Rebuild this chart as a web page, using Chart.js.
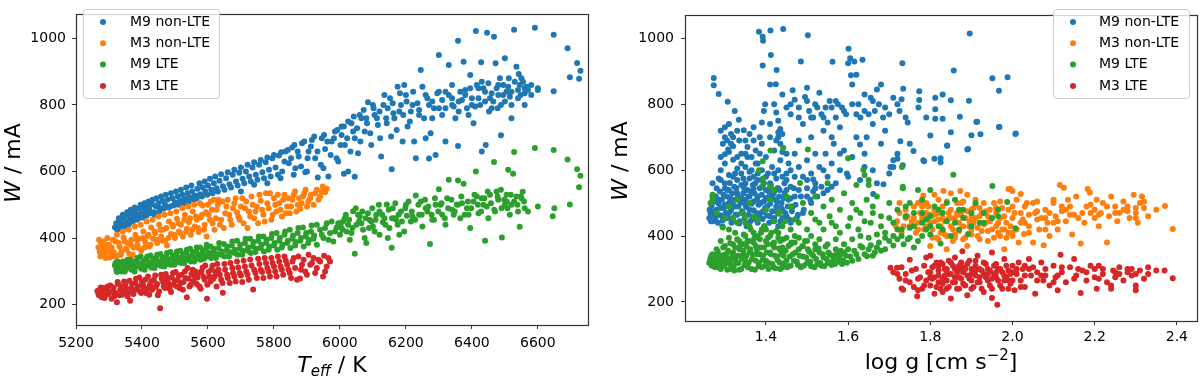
<!DOCTYPE html>
<html>
<head>
<meta charset="utf-8">
<script src="https://cdn.jsdelivr.net/npm/chart.js@4.4.1/dist/chart.umd.min.js"></script>
<style>
  body { margin: 0; background: #fff; }
  #wrap { position: relative; width: 1200px; height: 379px; }
  canvas { position: absolute; top: 0; }
</style>
</head>
<body>
<div id="wrap">
  <canvas id="teffChart" width="600" height="379" style="left:0px"></canvas>
  <canvas id="loggChart" width="600" height="379" style="left:600px"></canvas>
</div>
<script>
var seriesNames = ['M9 non-LTE', 'M3 non-LTE', 'M9 LTE', 'M3 LTE']
var seriesColors = ['#1f77b4', '#ff7f0e', '#2ca02c', '#d62728']

var teffTicks = [5200, 5400, 5600, 5800, 6000, 6200, 6400, 6600]
var loggTicks = [1.4, 1.6, 1.8, 2.0, 2.2, 2.4]
var wTicks = [200, 400, 600, 800, 1000]

// left panel: [Teff, W]
var teffM9nlte = [[5318,432],[5322,445],[5328,438],[5335,452],[5340,440],[5345,462],[5352,448],[5358,470],[5362,455],[5368,478],[5375,465],[5380,482],[5386,470],[5392,490],[5398,475],[5404,493],[5410,482],[5416,498],[5422,488],[5430,502],[5436,478],[5442,496],[5450,505],[5456,490],[5462,512],[5470,500],[5478,516],[5485,495],[5492,520],[5500,508],[5508,526],[5515,512],[5522,530],[5530,518],[5538,535],[5545,522],[5552,540],[5560,528],[5568,548],[5576,532],[5584,552],[5592,540],[5600,558],[5610,545],[5618,565],[5626,550],[5635,572],[5645,556],[5655,580],[5665,562],[5675,590],[5685,570],[5695,596],[5705,578],[5715,600],[5725,585],[5735,612],[5745,590],[5755,620],[5765,598],[5775,628],[5785,605],[5795,640],[5805,612],[5815,648],[5825,600],[5835,660],[5845,625],[5855,672],[5865,610],[5875,645],[5885,685],[5895,598],[5905,660],[5915,695],[5925,640],[5933,582],[5945,700],[5955,668],[5965,585],[5975,690],[5985,720],[5995,630],[6005,710],[6012,593],[6015,680],[6025,600],[6035,745],[6045,584],[6045,700],[6055,655],[6065,760],[6075,720],[6085,808],[6095,680],[6105,770],[6115,740],[6125,645],[6135,830],[6145,790],[6155,705],[6157,607],[6165,760],[6175,855],[6185,800],[6190,690],[6195,860],[6205,735],[6215,780],[6225,690],[6230,640],[6235,805],[6245,905],[6255,760],[6260,700],[6265,820],[6270,639],[6275,715],[6285,790],[6290,650],[6295,835],[6300,950],[6310,770],[6310,815],[6320,690],[6330,920],[6330,830],[6340,800],[6345,795],[6350,760],[6358,993],[6358,677],[6360,810],[6365,840],[6375,930],[6380,845],[6385,790],[6390,770],[6395,890],[6400,820],[6405,745],[6412,1022],[6415,860],[6420,820],[6425,800],[6428,928],[6430,660],[6435,850],[6440,840],[6442,680],[6446,1017],[6450,865],[6452,780],[6460,835],[6465,810],[6467,1005],[6472,925],[6475,850],[6480,860],[6485,880],[6488,709],[6488,800],[6495,830],[6500,940],[6505,840],[6510,855],[6512,880],[6520,760],[6520,800],[6528,1026],[6530,870],[6535,915],[6540,845],[6542,893],[6548,830],[6550,880],[6555,870],[6560,800],[6565,855],[6570,845],[6580,860],[6591,1032],[6600,850],[6648,1011],[6648,841],[6690,970],[6697,883],[6719,926],[6725,879],[6729,903],
  [5325,425],[5330,460],[5336,430],[5342,470],[5348,435],[5355,478],[5360,442],[5366,485],[5372,450],[5378,492],[5384,455],[5390,460],[5396,500],[5402,462],[5408,505],[5414,468],[5420,510],[5426,475],[5432,515],[5438,470],[5444,520],[5452,480],[5458,525],[5465,488],[5472,530],[5480,492],[5488,535],[5495,498],[5503,540],[5510,500],[5518,545],[5526,505],[5534,552],[5542,510],[5550,558],[5558,515],[5566,520],[5574,565],[5582,525],[5590,570],[5598,530],[5606,578],[5614,535],[5622,585],[5630,540],[5640,592],[5650,545],[5660,598],[5670,552],[5680,605],[5690,558],[5700,612],[5710,565],[5720,620],[5730,570],[5740,628],[5750,575],[5760,635],[5770,580],[5780,642],[5790,585],[5800,650],[5812,590],[5822,658],[5832,630],[5842,665],[5852,640],[5862,680],[5872,660],[5882,615],[5892,690],[5902,640],[5912,675],[5922,705],[5932,660],[5942,620],[5952,710],[5962,690],[5972,650],[5982,700],[5992,725],[6002,680],[6012,735],[6022,700],[6032,660],[6042,765],[6052,730],[6062,690],[6072,785],[6082,745],[6092,715],[6102,790],[6112,760],[6122,700],[6132,800],[6142,745],[6152,820],[6162,775],[6172,725],[6182,835],[6192,770],[6202,810],[6212,750],[6222,840],[6240,785],[6250,855],[6270,800],[6280,760],[6300,840],[6320,790],[6340,860],[6370,815],[6395,850],[6410,795],[6430,870],[6455,820],[6478,790],[6495,860],[6515,825],[6545,860],[6560,835],
  [5700,540],[5740,560],[5780,565],[5820,580],[5860,590],[5900,600],[5950,610],[5990,640],[6005,735],[6025,750],[6040,720],[6060,770],[6080,760],[6100,800],[6120,780],[6140,760],[6160,805],[6180,780],[6200,830],[6220,800],[6240,770],[6260,830],[6280,810],[6300,790],[6320,840],[6340,820],[6360,780],[6380,830],[6400,800],[6420,850],[6440,810],[6460,790],[6480,830],[6500,810],[6520,840],[6540,820],[6560,850],[6580,830],[6600,845]]

var teffM3nlte = [[5268,372],[5272,358],[5276,385],[5282,365],[5288,352],[5292,378],[5298,362],[5303,342],[5308,372],[5314,358],[5320,390],[5326,348],[5332,375],[5338,360],[5344,402],[5350,368],[5356,385],[5362,352],[5368,395],[5374,372],[5380,410],[5386,380],[5392,398],[5398,362],[5404,420],[5410,388],[5416,405],[5422,375],[5428,432],[5434,398],[5440,415],[5446,385],[5452,440],[5458,405],[5464,425],[5470,392],[5476,378],[5482,450],[5488,412],[5494,435],[5500,400],[5506,458],[5512,420],[5518,440],[5524,405],[5530,470],[5536,428],[5542,448],[5548,410],[5554,480],[5560,435],[5566,455],[5572,418],[5578,462],[5584,498],[5590,440],[5596,405],[5602,470],[5608,510],[5614,445],[5620,425],[5626,485],[5632,515],[5640,455],[5648,430],[5656,495],[5664,470],[5672,440],[5680,505],[5688,478],[5696,455],[5704,520],[5712,490],[5720,430],[5728,465],[5736,500],[5744,480],[5752,445],[5760,512],[5768,470],[5776,535],[5784,490],[5792,455],[5800,520],[5808,480],[5816,505],[5824,465],[5832,530],[5840,495],[5848,475],[5856,515],[5864,540],[5872,500],[5880,488],[5888,525],[5896,545],[5904,510],[5912,530],[5920,500],[5930,545],[5940,525],[5948,555],[5955,538],[5960,548],
  [5270,395],[5274,345],[5278,370],[5284,390],[5290,340],[5295,400],[5300,380],[5306,355],[5312,395],[5318,345],[5324,410],[5330,385],[5336,350],[5342,420],[5348,390],[5354,365],[5360,425],[5366,380],[5372,350],[5378,435],[5384,395],[5390,370],[5396,440],[5402,400],[5408,372],[5414,450],[5420,410],[5426,380],[5432,455],[5438,420],[5444,395],[5450,465],[5456,425],[5462,392],[5468,470],[5474,430],[5480,400],[5486,475],[5492,440],[5498,410],[5504,480],[5510,445],[5516,415],[5522,490],[5528,455],[5534,420],[5540,495],[5546,460],[5552,425],[5558,500],[5564,465],[5570,430],[5576,505],[5582,470],[5588,425],[5594,478],[5600,500],[5606,455],[5612,485],[5618,515],[5624,460],[5630,500],[5636,440],[5644,510],[5652,475],[5660,515],[5668,455],[5676,490],[5684,520],[5692,465],[5700,495],[5708,445],[5716,510],[5724,480],[5732,525],[5740,460],[5748,495],[5756,530],[5764,485],[5772,450],[5780,505],[5788,535],[5796,470],[5804,500],[5812,530],[5820,485],[5828,515],[5836,475],[5844,520],[5852,495],[5860,530],[5868,480],[5876,520],[5884,505],[5892,535],[5900,495],[5910,520],[5925,535],[5935,515],[5945,540]]

var teffM9lte = [[5318,318],[5322,305],[5326,330],[5332,312],[5338,300],[5344,322],[5350,310],[5356,335],[5362,318],[5368,305],[5374,328],[5380,315],[5386,340],[5392,322],[5398,308],[5404,332],[5410,318],[5416,345],[5422,325],[5428,312],[5434,338],[5440,322],[5446,350],[5452,330],[5458,316],[5464,342],[5470,328],[5476,355],[5482,335],[5488,320],[5494,348],[5500,332],[5506,360],[5512,340],[5518,325],[5524,352],[5530,338],[5536,365],[5542,345],[5548,330],[5554,358],[5560,342],[5566,372],[5572,350],[5578,335],[5584,362],[5590,348],[5596,380],[5602,356],[5610,340],[5618,368],[5626,352],[5634,385],[5642,360],[5650,345],[5658,375],[5666,358],[5674,390],[5682,365],[5690,350],[5698,380],[5706,362],[5714,398],[5722,372],[5730,355],[5738,388],[5746,368],[5754,405],[5762,380],[5770,360],[5778,395],[5786,375],[5794,412],[5802,385],[5810,365],[5818,400],[5826,380],[5834,420],[5842,392],[5850,370],[5858,408],[5866,388],[5874,430],[5882,400],[5890,375],[5898,415],[5906,395],[5914,438],[5922,408],[5930,380],[5940,425],[5950,400],[5960,445],[5970,415],[5980,390],[5990,432],[6000,410],[6010,450],[6020,420],[6030,395],[6040,481],[6045,353],[6050,440],[6060,465],[6070,425],[6080,385],[6090,455],[6100,435],[6110,470],[6120,410],[6130,448],[6142,501],[6150,430],[6157,371],[6165,460],[6175,440],[6185,480],[6195,420],[6203,467],[6215,450],[6230,528],[6240,470],[6250,435],[6260,490],[6273,382],[6280,455],[6290,500],[6300,547],[6310,470],[6320,440],[6330,575],[6340,485],[6354,501],[6358,573],[6365,460],[6375,563],[6385,490],[6395,430],[6405,510],[6412,600],[6420,475],[6430,520],[6440,392],[6445,495],[6455,530],[6467,629],[6470,480],[6480,515],[6491,402],[6500,500],[6506,510],[6510,605],[6515,470],[6525,593],[6528,659],[6535,525],[6545,434],[6554,539],[6560,490],[6591,671],[6645,466],[6648,665],[6690,636],[6697,501],[6719,607],[6725,553],[6729,587],
  [5320,325],[5324,298],[5330,320],[5336,308],[5342,330],[5348,300],[5354,325],[5360,310],[5366,335],[5372,312],[5378,300],[5384,330],[5390,315],[5396,345],[5402,322],[5408,305],[5414,338],[5420,318],[5426,348],[5432,328],[5438,310],[5444,340],[5450,320],[5456,352],[5462,332],[5468,315],[5474,345],[5480,322],[5486,358],[5492,338],[5498,320],[5504,350],[5510,328],[5516,362],[5522,342],[5528,325],[5534,356],[5540,335],[5546,368],[5552,348],[5558,330],[5564,360],[5570,338],[5576,372],[5582,352],[5588,338],[5594,368],[5600,345],[5608,375],[5616,355],[5624,340],[5632,370],[5640,350],[5648,382],[5656,362],[5664,345],[5672,378],[5680,355],[5688,392],[5696,368],[5704,350],[5712,385],[5720,362],[5728,398],[5736,375],[5744,358],[5752,392],[5760,370],[5768,405],[5776,385],[5784,365],[5792,400],[5800,378],[5808,415],[5816,392],[5824,372],[5832,410],[5840,385],[5848,425],[5856,398],[5864,378],[5872,415],[5880,392],[5888,432],[5896,405],[5904,385],[5912,420],[5920,398],[5930,440],[5945,410],[5955,430],[5965,395],[5975,450],[5985,420],[5995,445],[6005,430],[6015,460],[6025,440],[6035,415],[6055,470],[6065,445],[6075,400],[6085,475],[6095,450],[6105,420],[6120,480],[6135,460],[6145,400],[6160,490],[6170,455],[6180,410],[6200,500],[6220,465],[6245,510],[6265,480],[6285,455],[6305,500],[6325,520],[6345,470],[6370,505],[6390,470],[6415,525],[6435,500],[6450,460],[6475,540],[6490,490],[6505,530],[6520,500],[6540,480],[6550,520],
  [6002,445],[6008,425],[6018,470],[6028,455],[6038,430],[6048,490],[6058,450],[6068,480],[6078,460],[6088,430],[6098,490],[6108,455],[6118,500],[6128,470],[6138,440],[6148,485],[6158,460],[6168,505],[6178,470],[6188,450],[6198,490],[6208,510],[6218,480],[6228,455],[6238,500],[6248,470],[6258,515],[6268,495],[6278,470],[6288,520],[6298,480],[6308,505],[6318,460],[6328,490],[6338,515],[6348,480],[6358,500],[6368,525],[6378,470],[6388,510],[6398,490],[6408,530],[6418,500],[6428,480],[6438,520],[6448,540],[6458,505],[6468,485],[6478,525],[6488,545],[6498,515],[6508,490],[6518,530],[6528,510],[6538,500],[6548,525],[6558,510],[6570,480],[6600,495],[6650,490]]

var teffM3lte = [[5265,241],[5270,228],[5275,252],[5280,235],[5286,220],[5292,245],[5298,232],[5304,258],[5310,240],[5316,225],[5324,207],[5328,262],[5334,245],[5340,230],[5346,270],[5352,250],[5358,235],[5364,212],[5370,262],[5376,245],[5382,278],[5388,255],[5394,240],[5400,268],[5406,250],[5412,235],[5418,285],[5424,260],[5430,245],[5436,275],[5442,255],[5448,228],[5455,189],[5458,290],[5464,268],[5470,250],[5476,282],[5482,262],[5488,238],[5494,295],[5500,272],[5506,255],[5512,288],[5518,265],[5524,245],[5530,300],[5536,222],[5542,278],[5548,260],[5554,305],[5560,285],[5566,262],[5572,295],[5578,248],[5584,312],[5590,275],[5597,218],[5602,298],[5608,270],[5614,318],[5620,285],[5626,255],[5632,305],[5640,275],[5645,236],[5650,322],[5658,290],[5666,265],[5674,310],[5680,285],[5688,330],[5696,295],[5704,268],[5712,315],[5720,290],[5728,336],[5737,246],[5740,305],[5748,280],[5756,322],[5764,298],[5772,340],[5780,310],[5788,285],[5796,325],[5804,300],[5812,345],[5820,315],[5828,290],[5836,332],[5844,305],[5852,280],[5860,340],[5870,275],[5879,279],[5885,320],[5895,300],[5905,350],[5915,325],[5925,295],[5935,335],[5949,285],[5952,347],[5960,315],[5970,330],
  [5268,232],[5273,245],[5278,222],[5284,250],[5290,228],[5296,255],[5302,238],[5308,218],[5314,252],[5320,235],[5326,268],[5332,228],[5338,255],[5344,240],[5350,262],[5356,225],[5362,272],[5368,248],[5374,232],[5380,265],[5386,245],[5392,282],[5398,235],[5404,258],[5410,275],[5416,248],[5422,230],[5428,270],[5434,250],[5440,288],[5446,262],[5452,240],[5460,278],[5466,255],[5472,292],[5478,268],[5484,248],[5490,282],[5496,260],[5502,298],[5508,275],[5514,250],[5520,290],[5526,268],[5532,280],[5538,310],[5544,255],[5550,292],[5556,270],[5562,300],[5568,282],[5574,255],[5580,300],[5586,285],[5592,318],[5598,260],[5604,285],[5610,305],[5616,278],[5622,300],[5628,322],[5636,290],[5644,265],[5652,305],[5660,280],[5668,325],[5676,295],[5684,270],[5692,312],[5700,288],[5708,332],[5716,300],[5724,275],[5732,318],[5744,295],[5752,338],[5760,305],[5768,280],[5776,325],[5784,300],[5792,340],[5800,315],[5808,285],[5816,330],[5824,305],[5832,345],[5840,320],[5848,295],[5856,330],[5864,310],[5874,345],[5882,305],[5890,335],[5900,290],[5910,320],[5920,340],[5930,310],[5940,330],[5955,300],[5965,340]]

// right panel: [log g, W]
var loggM9nlte = [[1.262,455],[1.265,470],[1.268,492],[1.27,445],[1.272,505],[1.275,462],[1.278,520],[1.28,480],[1.283,440],[1.285,498],[1.288,535],[1.29,462],[1.293,510],[1.295,448],[1.298,485],[1.30,545],[1.302,470],[1.305,520],[1.308,455],[1.31,500],[1.312,561],[1.315,478],[1.318,530],[1.32,445],[1.322,510],[1.325,490],[1.328,545],[1.33,465],[1.332,520],[1.335,438],[1.338,500],[1.34,555],[1.342,475],[1.345,530],[1.348,455],[1.35,510],[1.352,488],[1.355,540],[1.358,465],[1.36,520],[1.362,445],[1.365,498],[1.368,555],[1.37,478],[1.372,530],[1.375,460],[1.378,512],[1.38,440],[1.382,495],[1.385,545],[1.388,470],[1.39,525],[1.392,452],[1.395,505],[1.398,485],[1.40,540],[1.402,462],[1.405,518],[1.408,440],[1.41,498],[1.412,555],[1.415,475],[1.418,528],[1.42,455],[1.422,510],[1.425,490],[1.428,545],[1.43,468],[1.432,520],[1.435,445],[1.438,500],[1.44,480],[1.445,530],[1.45,460],[1.455,510],[1.46,440],[1.465,490],[1.47,520],[1.475,455],[1.48,540],[1.49,470],[1.5,520],[1.51,500],[1.52,545],[1.54,530],[1.56,550],
  [1.273,880],[1.273,858],[1.285,831],[1.307,808],[1.324,780],[1.334,753],[1.346,721],[1.308,663],[1.30,648],[1.32,673],[1.32,632],[1.30,620],[1.29,600],[1.31,585],[1.33,605],[1.285,575],[1.34,650],[1.35,690],[1.36,710],[1.355,640],[1.365,600],[1.37,580],[1.38,620],[1.375,660],[1.385,700],[1.39,745],[1.395,780],[1.398,800],[1.383,1020],[1.392,1005],[1.393,993],[1.411,1024],[1.442,1029],[1.502,1010],[1.412,950],[1.392,918],[1.426,904],
  [1.42,800],[1.425,775],[1.43,750],[1.435,725],[1.43,700],[1.435,680],[1.44,655],[1.435,630],[1.43,600],[1.425,575],[1.445,560],[1.45,590],[1.455,620],[1.41,860],[1.424,861],[1.44,830],[1.45,790],[1.46,770],[1.465,843],[1.47,814],[1.495,822],[1.48,760],[1.485,930],[1.49,740],[1.5,850],[1.505,780],[1.51,700],[1.515,760],[1.52,800],[1.53,835],[1.535,770],[1.54,720],[1.545,790],[1.55,745],[1.555,810],[1.562,929],[1.565,680],[1.57,760],[1.575,800],[1.58,730],[1.585,790],[1.59,660],[1.595,770],[1.6,925],[1.601,969],[1.605,940],[1.607,888],[1.61,860],[1.615,930],[1.62,890],[1.625,800],[1.63,760],[1.635,935],[1.64,780],[1.645,700],[1.65,770],[1.655,820],[1.66,740],[1.665,780],[1.67,845],[1.675,800],[1.68,860],[1.685,760],[1.69,720],
  [1.47,650],[1.48,610],[1.49,580],[1.5,630],[1.51,590],[1.515,572],[1.52,560],[1.53,610],[1.545,650],[1.55,580],[1.56,620],[1.57,560],[1.58,600],[1.597,590],[1.61,640],[1.629,570],[1.629,678],[1.64,610],[1.661,528],[1.67,560],[1.686,557],[1.703,610],[1.727,688],[1.75,680],[1.783,630],[1.81,635],[1.841,674],[1.89,663],[1.914,747],[1.922,709],[1.968,731],[2.007,710],
  [1.71,820],[1.72,800],[1.725,780],[1.73,815],[1.732,925],[1.734,847],[1.74,760],[1.745,745],[1.759,658],[1.72,650],[1.72,635],[1.733,615],[1.71,630],[1.71,610],[1.70,590],[1.771,790],[1.773,840],[1.773,813],[1.785,627],[1.79,760],[1.80,705],[1.812,785],[1.812,756],[1.812,820],[1.825,636],[1.825,624],[1.83,830],[1.83,756],[1.841,675],[1.85,715],[1.85,812],[1.857,903],[1.872,762],[1.892,664],[1.894,811],[1.896,1015],[1.90,706],[1.912,746],[1.951,879],[1.967,841],[1.967,731],[1.988,882],[2.008,711],
  [1.263,480],[1.266,445],[1.27,520],[1.274,475],[1.277,450],[1.28,505],[1.284,465],[1.287,510],[1.29,485],[1.294,430],[1.297,525],[1.30,495],[1.303,455],[1.306,540],[1.31,470],[1.313,515],[1.316,440],[1.32,495],[1.323,550],[1.326,465],[1.33,530],[1.333,490],[1.336,445],[1.34,515],[1.344,470],[1.347,545],[1.35,495],[1.353,430],[1.357,520],[1.36,480],[1.364,535],[1.367,450],[1.37,505],[1.374,560],[1.377,470],[1.38,520],[1.384,455],[1.387,500],[1.39,550],[1.393,475],[1.396,430],[1.40,515],[1.403,490],[1.407,535],[1.41,460],[1.413,520],[1.417,445],[1.42,535],[1.423,475],[1.427,505],[1.43,430],[1.433,540],[1.437,485],[1.44,455],[1.443,515],[1.447,470],[1.45,540],[1.453,490],[1.457,450],[1.46,515],[1.463,475],[1.468,545],[1.472,495],[1.478,465],[1.485,520],[1.492,480],[1.5,545],[1.508,510],[1.515,535],[1.525,520],[1.535,550],[1.55,540],
  [1.29,640],[1.295,680],[1.30,700],[1.305,690],[1.31,655],[1.315,710],[1.32,700],[1.325,590],[1.33,640],[1.335,690],[1.34,620],[1.345,575],[1.35,610],[1.355,670],[1.36,595],[1.365,640],[1.37,690],[1.375,620],[1.38,570],[1.385,650],[1.39,600],[1.395,560],[1.40,640],[1.405,590],[1.41,700],[1.415,610],[1.42,660],[1.425,690],[1.44,710],[1.45,650],[1.46,600],[1.47,580],[1.48,690],[1.5,570],[1.52,650],[1.54,600],[1.56,700],[1.58,650],[1.6,580],[1.62,700],[1.64,650],[1.66,600],[1.68,680],
  [1.46,800],[1.48,790],[1.50,810],[1.51,760],[1.525,790],[1.54,760],[1.56,790],[1.57,810],[1.59,780],[1.61,800],[1.62,770],[1.64,830],[1.66,810],[1.69,790],[1.70,770],
  [1.27,560],[1.28,545],[1.29,570],[1.30,560],[1.31,540],[1.32,580],[1.33,570],[1.34,590],[1.35,560],[1.36,575],[1.37,545],[1.38,590],[1.39,570],[1.40,580],[1.41,560],[1.42,590],[1.43,545],[1.44,580],[1.45,570],[1.46,550],[1.29,720],[1.30,730],[1.31,740],[1.315,680],[1.33,720],[1.35,650],[1.37,730],[1.39,680],[1.41,740],[1.43,715]]

var loggM3nlte = [[1.716,430],[1.719,445],[1.725,470],[1.73,410],[1.74,455],[1.75,430],[1.76,490],[1.765,410],[1.77,440],[1.775,470],[1.78,490],[1.78,500],[1.783,523],[1.785,455],[1.79,430],[1.79,500],[1.795,490],[1.80,370],[1.80,465],[1.805,420],[1.81,525],[1.81,445],[1.815,395],[1.82,510],[1.82,470],[1.825,430],[1.83,415],[1.832,537],[1.835,405],[1.84,360],[1.84,505],[1.845,455],[1.85,530],[1.85,480],[1.855,420],[1.86,405],[1.86,395],[1.865,470],[1.87,440],[1.873,537],[1.875,500],[1.88,390],[1.885,455],[1.89,525],[1.89,370],[1.895,430],[1.90,420],[1.90,480],[1.905,440],[1.91,510],[1.91,495],[1.915,400],[1.92,460],[1.925,415],[1.93,435],[1.935,475],[1.94,385],[1.945,445],[1.95,420],[1.955,500],[1.96,430],[1.965,410],[1.97,400],[1.97,455],[1.975,485],[1.98,360],[1.985,440],[1.99,410],[1.99,543],[1.995,543],[2.0,537],[2.0,410],[2.0,400],[2.005,470],[2.01,510],[2.015,380],[2.02,528],[2.025,450],[2.028,406],[2.03,490],[2.035,500],[2.04,430],[2.05,380],[2.055,470],[2.06,505],[2.065,420],[2.07,455],[2.076,372],[2.08,480],[2.085,440],[2.09,400],[2.1,510],[2.1,500],[2.105,460],[2.11,420],[2.115,555],[2.12,490],[2.12,475],[2.125,547],[2.13,445],[2.135,510],[2.14,490],[2.145,405],[2.15,465],[2.155,520],[2.166,377],[2.17,470],[2.175,440],[2.183,543],[2.188,532],[2.19,495],[2.2,480],[2.2,455],[2.205,510],[2.21,430],[2.215,470],[2.22,500],[2.23,380],[2.235,460],[2.24,520],[2.25,490],[2.255,445],[2.26,470],[2.27,505],[2.28,490],[2.285,455],[2.295,525],[2.3,485],[2.3,470],[2.305,440],[2.31,500],[2.315,520],[2.32,504],[2.33,460],[2.35,480],[2.371,491],[2.39,421],
  [1.74,480],[1.755,445],[1.77,420],[1.78,455],[1.79,470],[1.80,440],[1.805,395],[1.81,480],[1.82,450],[1.825,410],[1.83,490],[1.835,445],[1.84,400],[1.845,470],[1.85,430],[1.855,385],[1.86,455],[1.865,500],[1.87,415],[1.875,465],[1.88,430],[1.885,395],[1.89,475],[1.895,445],[1.90,405],[1.905,485],[1.91,455],[1.915,425],[1.92,390],[1.925,470],[1.93,500],[1.935,440],[1.94,415],[1.945,480],[1.95,455],[1.955,395],[1.96,470],[1.965,440],[1.97,505],[1.975,420],[1.98,460],[1.985,395],[1.99,480],[1.995,430],[2.0,455],[2.01,420],[2.02,470],[2.03,440],[2.04,465],[2.05,500],[2.06,450],[2.08,420],[2.09,470],[2.11,445],[2.13,480],[2.16,455],[2.18,490],[2.21,465],[2.25,470],[2.28,475],[2.32,485],
  [1.725,500],[1.735,430],[1.745,460],[1.76,455],[1.77,500],[1.785,420],[1.795,455],[1.81,465],[1.82,390],[1.83,455],[1.85,455],[1.87,465],[1.88,505],[1.9,460],[1.92,485],[1.94,460],[1.96,485],[1.98,420],[2.0,490],[2.02,440],[2.04,410],[2.06,475],[2.08,455],[2.1,440],[2.14,465],[2.19,470],[2.23,490],[2.27,480],[2.3,455]]

var loggM9lte = [[1.262,318],[1.265,332],[1.268,310],[1.27,345],[1.273,325],[1.276,305],[1.28,338],[1.283,352],[1.286,318],[1.29,300],[1.293,335],[1.296,365],[1.30,322],[1.303,345],[1.306,298],[1.31,330],[1.313,378],[1.316,312],[1.32,350],[1.323,295],[1.326,335],[1.33,390],[1.333,318],[1.336,360],[1.34,300],[1.343,342],[1.346,405],[1.35,325],[1.353,368],[1.356,305],[1.36,350],[1.363,420],[1.366,330],[1.37,380],[1.373,298],[1.376,345],[1.38,400],[1.383,318],[1.386,365],[1.39,305],[1.393,340],[1.396,430],[1.40,325],[1.403,375],[1.406,300],[1.41,350],[1.413,410],[1.416,315],[1.42,365],[1.423,302],[1.426,338],[1.43,395],[1.433,320],[1.436,355],[1.44,305],[1.443,340],[1.446,445],[1.45,325],[1.455,370],[1.46,310],[1.465,345],[1.47,400],[1.475,322],[1.48,360],[1.485,305],[1.49,338],[1.495,385],[1.50,318],[1.505,352],[1.51,308],[1.515,340],[1.52,375],[1.525,315],[1.53,350],[1.535,310],[1.54,335],[1.545,368],[1.55,318],[1.555,345],[1.56,312],[1.565,330],[1.57,360],[1.575,322],[1.58,340],[1.585,315],[1.59,350],[1.597,319],[1.605,338],[1.615,355],[1.625,330],[1.635,365],[1.646,339],[1.655,372],[1.665,350],[1.675,380],[1.69,360],[1.71,371],[1.72,390],[1.735,375],[1.75,395],[1.76,365],[1.78,400],[1.79,420],[1.825,377],[1.892,406],
  [1.265,500],[1.27,525],[1.27,510],[1.28,470],[1.295,426],[1.30,455],[1.31,490],[1.32,455],[1.33,510],[1.34,470],[1.35,440],[1.36,500],[1.37,460],[1.383,600],[1.392,627],[1.393,575],[1.393,555],[1.40,480],[1.41,510],[1.411,660],[1.41,550],[1.42,540],[1.43,470],[1.434,473],[1.442,668],[1.45,520],[1.46,490],[1.47,450],[1.483,561],[1.49,500],[1.502,663],[1.51,470],[1.52,520],[1.53,440],[1.54,490],[1.55,560],[1.555,460],[1.56,510],[1.57,430],[1.58,480],[1.59,530],[1.6,636],[1.605,455],[1.61,500],[1.62,555],[1.625,420],[1.63,470],[1.637,601],[1.64,585],[1.645,510],[1.65,570],[1.65,555],[1.655,440],[1.66,490],[1.67,520],[1.68,460],[1.69,410],[1.7,500],[1.71,440],[1.72,480],[1.731,610],[1.733,550],[1.733,545],[1.74,460],[1.75,500],[1.76,430],[1.77,540],[1.78,470],[1.79,450],[1.80,540],[1.81,490],[1.82,430],[1.83,470],[1.84,500],[1.856,586],[1.86,440],[1.87,480],[1.88,455],[1.90,470],[1.92,440],[1.95,455],[1.951,552],[1.965,480],[1.965,460],[1.987,503],[2.007,424],
  [1.264,325],[1.267,340],[1.27,315],[1.275,330],[1.278,312],[1.282,345],[1.285,305],[1.288,328],[1.292,318],[1.295,342],[1.298,310],[1.30,335],[1.305,318],[1.308,355],[1.312,300],[1.315,328],[1.318,345],[1.322,310],[1.325,365],[1.328,322],[1.332,340],[1.335,298],[1.338,372],[1.342,330],[1.345,355],[1.348,312],[1.352,340],[1.355,385],[1.358,320],[1.362,360],[1.365,300],[1.368,345],[1.372,395],[1.375,325],[1.378,360],[1.382,308],[1.385,345],[1.388,410],[1.392,328],[1.395,365],[1.398,310],[1.402,350],[1.405,395],[1.408,318],[1.412,345],[1.415,375],[1.418,305],[1.422,340],[1.425,415],[1.428,328],[1.432,362],[1.435,300],[1.438,345],[1.442,390],[1.445,318],[1.448,355],[1.452,305],[1.458,338],[1.462,380],[1.468,325],[1.472,350],[1.478,312],[1.482,340],[1.488,368],[1.492,310],[1.498,335],[1.502,360],[1.508,322],[1.512,345],[1.518,305],[1.522,330],[1.528,362],[1.532,318],[1.538,345],[1.542,308],[1.548,330],[1.552,350],[1.558,320],[1.562,340],[1.568,315],[1.572,345],[1.578,330],[1.582,355],[1.588,325],[1.595,340],[1.60,360],[1.61,325],[1.62,345],[1.63,370],[1.64,345],[1.65,360],[1.66,340],[1.67,365],[1.68,355],[1.70,385],[1.73,400],[1.745,390],[1.77,385],[1.80,405],
  [1.31,420],[1.33,440],[1.35,460],[1.36,430],[1.38,450],[1.40,420],[1.42,445],[1.44,430],[1.46,420],[1.48,440],[1.50,420],[1.52,450],[1.54,420],[1.56,440],[1.58,410],[1.60,430],[1.62,480],[1.64,445],[1.66,470],[1.68,430],[1.70,455],[1.72,420],[1.74,490],[1.76,470],[1.78,510],[1.80,460],[1.82,480],[1.84,445],[1.86,510],[1.88,480],[1.91,500],[1.93,470],
  [1.28,360],[1.29,385],[1.30,370],[1.31,395],[1.32,375],[1.325,410],[1.335,385],[1.345,375],[1.35,400],[1.36,385],[1.37,410],[1.375,370],[1.385,390],[1.39,420],[1.40,385],[1.41,400],[1.42,380],[1.43,410],[1.435,385],[1.44,365],[1.45,395],[1.46,375],[1.47,380],[1.48,395],[1.49,370],[1.50,385],[1.51,400],[1.52,360],[1.53,390],[1.55,375],[1.57,390],[1.59,375],[1.61,390],[1.63,400],[1.65,395],[1.67,405],[1.69,395],[1.71,400],[1.73,420],[1.75,425],[1.78,440],[1.80,430],[1.83,420],[1.85,400],[1.87,420],[1.9,430],[1.93,440]]

var loggM3lte = [[1.703,304],[1.71,290],[1.719,304],[1.725,270],[1.73,305],[1.73,241],[1.734,237],[1.74,285],[1.75,328],[1.75,260],[1.76,245],[1.765,300],[1.768,217],[1.77,235],[1.775,275],[1.78,240],[1.785,310],[1.79,335],[1.79,265],[1.795,290],[1.80,340],[1.80,250],[1.805,305],[1.81,275],[1.81,225],[1.815,320],[1.82,260],[1.82,295],[1.825,240],[1.83,230],[1.83,315],[1.835,280],[1.84,265],[1.84,300],[1.845,325],[1.845,245],[1.85,285],[1.85,210],[1.855,310],[1.86,260],[1.86,335],[1.865,290],[1.87,240],[1.87,275],[1.875,320],[1.878,354],[1.88,255],[1.885,300],[1.89,220],[1.89,280],[1.895,325],[1.9,265],[1.9,300],[1.905,245],[1.91,310],[1.91,280],[1.915,340],[1.92,260],[1.925,295],[1.93,230],[1.93,320],[1.935,275],[1.94,300],[1.945,250],[1.95,350],[1.95,212],[1.955,285],[1.96,315],[1.963,191],[1.965,265],[1.97,300],[1.975,240],[1.98,330],[1.985,275],[1.99,295],[1.995,255],[2.0,310],[2.005,235],[2.01,285],[2.015,320],[2.02,265],[2.025,300],[2.03,245],[2.04,330],[2.045,280],[2.05,305],[2.055,225],[2.06,290],[2.07,320],[2.075,265],[2.08,300],[2.09,250],[2.1,310],[2.105,275],[2.11,235],[2.117,343],[2.12,290],[2.13,260],[2.14,305],[2.15,330],[2.155,280],[2.166,227],[2.17,295],[2.18,265],[2.19,310],[2.2,300],[2.2,275],[2.205,240],[2.21,310],[2.22,285],[2.23,260],[2.24,250],[2.24,240],[2.245,295],[2.25,275],[2.26,305],[2.27,265],[2.28,300],[2.28,290],[2.29,280],[2.3,250],[2.3,235],[2.31,295],[2.32,270],[2.33,305],[2.35,295],[2.37,295],[2.39,272],
  [1.72,285],[1.74,265],[1.755,295],[1.77,270],[1.785,250],[1.80,290],[1.805,270],[1.81,310],[1.815,245],[1.82,280],[1.825,320],[1.83,255],[1.835,300],[1.84,240],[1.845,285],[1.85,320],[1.855,260],[1.86,300],[1.865,240],[1.87,310],[1.875,270],[1.88,290],[1.885,250],[1.89,315],[1.895,270],[1.90,240],[1.905,290],[1.91,325],[1.915,260],[1.92,300],[1.925,240],[1.93,285],[1.935,315],[1.94,265],[1.945,295],[1.95,240],[1.955,310],[1.96,275],[1.965,300],[1.97,250],[1.975,290],[1.98,265],[1.985,310],[1.99,240],[1.995,285],[2.0,265],[2.01,300],[2.02,245],[2.03,280],[2.04,300],[2.06,265],[2.08,280],[2.1,260],[2.12,305],[2.15,270],[2.18,290],[2.21,270],[2.25,290],[2.29,300],[2.33,285],
  [1.80,275],[1.82,310],[1.84,285],[1.86,275],[1.88,305],[1.9,285],[1.92,275],[1.94,285],[1.96,290],[1.98,280],[2.0,290],[1.83,270],[1.87,295],[1.91,295],[1.95,270],[1.99,265],[2.03,310],[2.07,280],[2.11,280],[2.16,300],[2.22,300],[2.26,285],[2.3,285]]

var FONT = '"DejaVu Sans", sans-serif'

function toXY(list) {
  return list.map(function (p) { return { x: p[0], y: p[1] } })
}

function makeDatasets(lists) {
  // matplotlib order: later series drawn on top
  return lists.map(function (list, i) {
    return {
      label: seriesNames[i],
      data: toXY(list),
      backgroundColor: seriesColors[i],
      borderWidth: 0,
      pointRadius: 3,
      pointHoverRadius: 3,
      order: 4 - i
    }
  })
}

function drawParts(ctx, parts, cx, cy, angle) {
  ctx.save()
  ctx.translate(cx, cy)
  ctx.rotate(angle)
  var total = 0
  parts.forEach(function (p) {
    ctx.font = p.font
    p.w = ctx.measureText(p.text).width
    total += p.w
  })
  var x = -total / 2
  ctx.fillStyle = '#000'
  ctx.textBaseline = 'alphabetic'
  parts.forEach(function (p) {
    ctx.font = p.font
    ctx.fillText(p.text, x, p.dy || 0)
    x += p.w
  })
  ctx.restore()
}

function drawLegend(ctx, box) {
  ctx.save()
  ctx.fillStyle = 'rgba(255,255,255,0.8)'
  ctx.strokeStyle = '#cccccc'
  ctx.lineWidth = 1
  ctx.beginPath()
  ctx.roundRect(box.x + 0.5, box.y + 0.5, box.w, box.h, 3)
  ctx.fill()
  ctx.stroke()
  ctx.font = '14px ' + FONT
  ctx.textBaseline = 'middle'
  seriesNames.forEach(function (name, i) {
    var y = box.y + 13 + i * 21.3
    ctx.fillStyle = seriesColors[i]
    ctx.beginPath()
    ctx.arc(box.x + 20, y, 3, 0, 2 * Math.PI)
    ctx.fill()
    ctx.fillStyle = '#000'
    ctx.fillText(name, box.x + box.tx, y)
  })
  ctx.restore()
}

function framePlugin(opts) {
  return {
    id: 'frame',
    afterDraw: function (chart) {
      var ctx = chart.ctx
      var a = chart.chartArea
      ctx.save()
      ctx.strokeStyle = '#333'
      ctx.lineWidth = 1.2
      ctx.strokeRect(Math.round(a.left) + 0.5, Math.round(a.top) + 0.5, Math.round(a.right - a.left), Math.round(a.bottom - a.top))
      ctx.restore()
      var big = '22px ' + FONT
      var bigIt = 'italic 22px ' + FONT
      var small = '15px ' + FONT
      var smallIt = 'italic 15px ' + FONT
      drawParts(ctx, [{ text: 'W', font: bigIt }, { text: ' / mA', font: big }], opts.yTitleX, opts.yTitleY, -Math.PI / 2)
      if (opts.kind === 'teff') {
        drawParts(ctx, [{ text: 'T', font: bigIt }, { text: 'eff', font: smallIt, dy: 4 }, { text: ' / K', font: big }], opts.xTitleX, opts.xTitleY, 0)
      } else {
        drawParts(ctx, [{ text: 'log g [cm s', font: big }, { text: '\u22122', font: small, dy: -9 }, { text: ']', font: big }], opts.xTitleX, opts.xTitleY, 0)
      }
      drawLegend(ctx, opts.legend)
    }
  }
}

function axisCfg(min, max, ticks, fmt, size, pad, isX) {
  return {
    type: 'linear',
    min: min,
    max: max,
    afterBuildTicks: function (scale) {
      scale.ticks = ticks.map(function (v) { return { value: v } })
    },
    afterFit: function (scale) {
      if (isX) scale.height = size
      else scale.width = size
    },
    grid: { drawOnChartArea: false, drawTicks: true, tickLength: 4, color: '#333', lineWidth: 1 },
    border: { display: false },
    ticks: {
      padding: pad,
      color: '#000',
      font: { family: FONT, size: 14 },
      maxRotation: 0,
      autoSkip: false,
      callback: fmt
    }
  }
}

function plainNum(v) { return String(v) }
function oneDec(v) { return Number(v).toFixed(1) }

var teffChart = new Chart(document.getElementById('teffChart'), {
  type: 'scatter',
  data: { datasets: makeDatasets([teffM9nlte, teffM3nlte, teffM9lte, teffM3lte]) },
  options: {
    responsive: false,
    animation: false,
    devicePixelRatio: 1,
    layout: { padding: { top: 2, right: 12, left: 0, bottom: 0 } },
    plugins: { legend: { display: false }, tooltip: { enabled: false } },
    scales: {
      x: axisCfg(5200, 6752, teffTicks, plainNum, 54, 6, true),
      y: axisCfg(139, 1072, wTicks, plainNum, 76, 6, false)
    }
  },
  plugins: [framePlugin({ kind: 'teff', yTitleX: 20, yTitleY: 163, xTitleX: 332, xTitleY: 372,
    legend: { x: 83, y: 9, w: 136, h: 89, tx: 47 } })]
})

var loggChart = new Chart(document.getElementById('loggChart'), {
  type: 'scatter',
  data: { datasets: makeDatasets([loggM9nlte, loggM3nlte, loggM9lte, loggM3lte]) },
  options: {
    responsive: false,
    animation: false,
    devicePixelRatio: 1,
    layout: { padding: { top: 2, right: 3, left: 0, bottom: 0 } },
    plugins: { legend: { display: false }, tooltip: { enabled: false } },
    scales: {
      x: axisCfg(1.203, 2.449, loggTicks, oneDec, 58, 4, true),
      y: axisCfg(142, 1070, wTicks, plainNum, 85, 7, false)
    }
  },
  plugins: [framePlugin({ kind: 'logg', yTitleX: 27, yTitleY: 161, xTitleX: 341, xTitleY: 369,
    legend: { x: 453, y: 9, w: 136, h: 89, tx: 46 } })]
})
</script>
</body>
</html>
